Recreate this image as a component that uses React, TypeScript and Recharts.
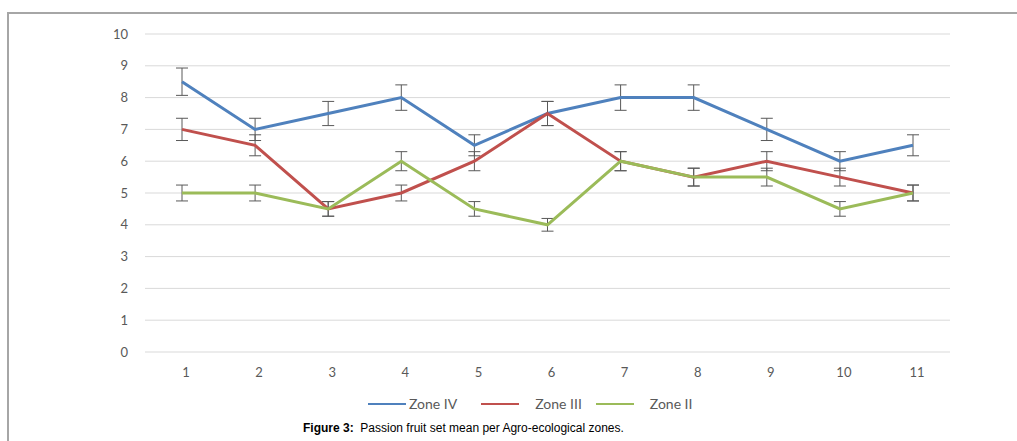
import { CartesianGrid, ErrorBar, Line, LineChart, XAxis, YAxis } from "recharts";

const categories = ["1", "2", "3", "4", "5", "6", "7", "8", "9", "10", "11"];
const zoneIV = [8.5, 7, 7.5, 8, 6.5, 7.5, 8, 8, 7, 6, 6.5];
const zoneIII = [7, 6.5, 4.5, 5, 6, 7.5, 6, 5.5, 6, 5.5, 5];
const zoneII = [5, 5, 4.5, 6, 4.5, 4, 6, 5.5, 5.5, 4.5, 5];
const zoneIVErr = [0.43, 0.35, 0.38, 0.4, 0.33, 0.38, 0.4, 0.4, 0.35, 0.3, 0.33];
const zoneIIIErr = [0.35, 0.33, 0.23, 0.25, 0.3, 0.38, 0.3, 0.28, 0.3, 0.28, 0.25];
const zoneIIErr = [0.25, 0.25, 0.23, 0.3, 0.23, 0.2, 0.3, 0.28, 0.28, 0.23, 0.25];
const yTicks = [0, 1, 2, 3, 4, 5, 6, 7, 8, 9, 10];

const series = [
  { key: "z4", err: "z4e", name: "Zone IV", color: "#4f81bd" },
  { key: "z3", err: "z3e", name: "Zone III", color: "#c0504d" },
  { key: "z2", err: "z2e", name: "Zone II", color: "#9bbb59" },
];

const data = categories.map((cat, i) => ({
  cat,
  z4: zoneIV[i],
  z4e: zoneIVErr[i],
  z3: zoneIII[i],
  z3e: zoneIIIErr[i],
  z2: zoneII[i],
  z2e: zoneIIErr[i],
}));

const tickStyle = { fill: "#595959", fontSize: 13, fontFamily: "Lato, 'Open Sans', sans-serif" };

function ChartLegend() {
  return (
    <div style={{ display: "flex", alignItems: "center", paddingLeft: 368, fontFamily: "Lato, 'Open Sans', sans-serif", fontSize: 14, color: "#595959" }}>
      {series.map((s, i) => (
        <div key={s.key} style={{ display: "flex", alignItems: "center", marginRight: i === 0 ? 24 : 14 }}>
          <div style={{ width: 38, height: 2, background: s.color }} />
          <span style={{ marginLeft: i === 0 ? 3 : 16 }}>{s.name}</span>
        </div>
      ))}
    </div>
  );
}

export default function App() {
  return (
    <div style={{ position: "fixed", left: 0, top: 0, width: 1017, height: 441, background: "#fff", overflow: "hidden" }}>
      <div style={{ position: "absolute", left: 7, top: 12, width: 1020, height: 440, borderTop: "2px solid #a6a6a6", borderLeft: "2px solid #a6a6a6" }} />
      <div style={{ position: "absolute", left: 0, top: 0 }}>
        <LineChart width={1017} height={420} data={data} margin={{ top: 34, right: 67, bottom: 38, left: 0 }}>
          <CartesianGrid stroke="#d9d9d9" vertical={false} />
          <XAxis dataKey="cat" tick={{ ...tickStyle, dx: 4 }} tickLine={false} axisLine={false} tickMargin={10} height={30} padding={{ left: 37, right: 37 }} />
          <YAxis width={145} domain={[0, 10]} ticks={yTicks} tick={tickStyle} tickLine={false} axisLine={false} tickMargin={11} />
          {series.map((s) => (
            <Line key={s.key} type="linear" dataKey={s.key} name={s.name} stroke={s.color} strokeWidth={3} dot={false} isAnimationActive={false}>
              <ErrorBar dataKey={s.err} direction="y" width={6} stroke="#595959" strokeWidth={1} isAnimationActive={false} />
            </Line>
          ))}
        </LineChart>
      </div>
      <div style={{ position: "absolute", left: 0, top: 395, width: 1017 }}>
        <ChartLegend />
      </div>
      <div style={{ position: "absolute", left: 303, top: 421, fontFamily: "'Liberation Sans', Arial, sans-serif", fontSize: 12, color: "#000", whiteSpace: "nowrap" }}>
        <b>Figure 3:</b>&nbsp; Passion fruit set mean per Agro-ecological zones.
      </div>
    </div>
  );
}
